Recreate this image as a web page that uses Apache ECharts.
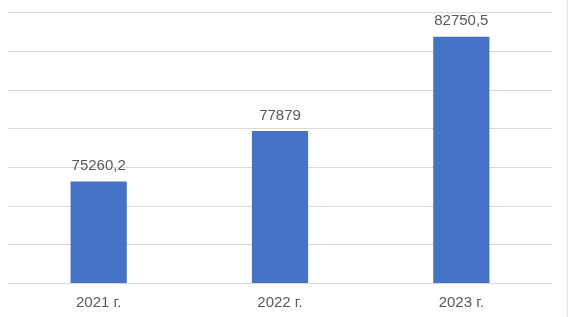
<!DOCTYPE html>
<html>
<head>
<meta charset="utf-8">
<script src="https://cdn.jsdelivr.net/npm/echarts@6/dist/echarts.min.js"></script>
<style>html,body{margin:0;padding:0;background:#fff}#c{width:569px;height:317px}</style>
</head>
<body>
<div id="c"></div>
<script>
const categories = ['2021 г.', '2022 г.', '2023 г.'];
const values = [75260.2, 77879, 82750.5];
const valueLabels = ['75260,2', '77879', '82750,5'];

const chart = echarts.init(document.getElementById('c'), null, {renderer: 'canvas'});
chart.setOption({
  animation: false,
  backgroundColor: '#fff',
  grid: {left: 8, right: 17, top: 12.7, bottom: 34, containLabel: false},
  xAxis: {
    type: 'category',
    data: categories,
    axisTick: {show: false},
    axisLine: {lineStyle: {color: '#d9d9d9', width: 1}},
    axisLabel: {color: '#595959', fontSize: 15, fontFamily: 'Liberation Sans', margin: 12}
  },
  yAxis: {
    type: 'value',
    min: 70000, max: 84000, interval: 2000,
    axisLabel: {show: false},
    axisLine: {show: false},
    axisTick: {show: false},
    splitLine: {lineStyle: {color: '#d9d9d9', width: 1}}
  },
  series: [{
    type: 'bar',
    data: values,
    barWidth: '31%',
    itemStyle: {color: '#4472c4'},
    label: {
      show: true, position: 'top', distance: 8,
      color: '#595959', fontSize: 15, fontFamily: 'Liberation Sans',
      formatter: p => valueLabels[p.dataIndex]
    }
  }],
  graphic: [{type: 'line', shape: {x1: 567.5, y1: 0, x2: 567.5, y2: 317}, style: {stroke: '#e6e6e6', lineWidth: 1}}]
});
</script>
</body>
</html>
